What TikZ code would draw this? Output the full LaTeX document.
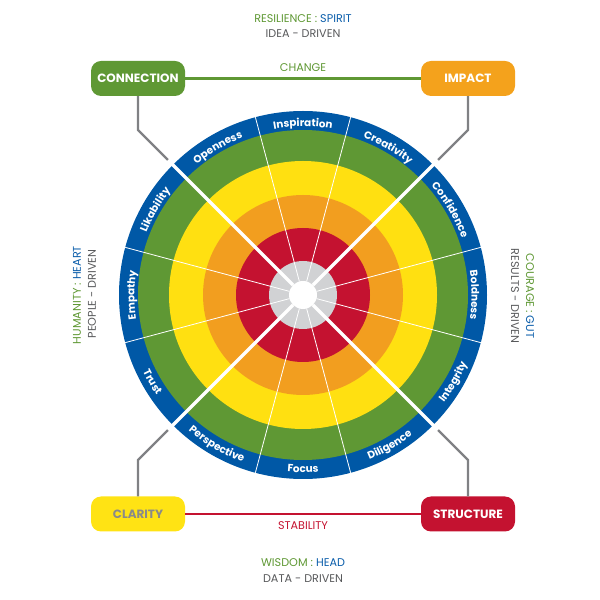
\documentclass[tikz,border=0pt]{standalone}
\usepackage{fontspec}
\setmainfont{Poppins}
\usetikzlibrary{decorations.text}
\definecolor{blueC}{HTML}{0058A6}
\definecolor{greenC}{HTML}{5F9834}
\definecolor{yellowC}{HTML}{FFE011}
\definecolor{orangeC}{HTML}{F29E1F}
\definecolor{redC}{HTML}{C41230}
\definecolor{grayC}{HTML}{D1D2D4}
\definecolor{lineGray}{HTML}{808184}
\definecolor{textGray}{HTML}{58595B}
\definecolor{blueT}{HTML}{0A5DAA}
\definecolor{impactC}{HTML}{F4A21C}
\definecolor{clarityC}{HTML}{FFE314}
\definecolor{clarityT}{HTML}{8A8A8A}
\newcommand\ringfont{\fontsize{10.4}{12}\selectfont\bfseries}
\newcommand\ttlfont{\fontsize{11.2}{13}\selectfont}
\begin{document}
\begin{tikzpicture}[x=1pt,y=1pt,
  box/.style={rounded corners=10, minimum width=94, minimum height=35, inner sep=0,
    font=\fontsize{12}{14}\selectfont\bfseries, text=white},
  conn/.style={lineGray, line width=2.2},
  ttl/.style={font=\ttlfont, inner sep=0},
  thinline/.style={white, line width=0.8},
  thickline/.style={white, line width=3.5},
  cwlabel/.style={decorate, decoration={text along path, text align=center, text color=white, text={|\ringfont|#1}}},
]
\useasboundingbox (0,0) rectangle (600,600);
\begin{scope}[shift={(303,305)}]
  \coordinate (c) at (0,0);
  \fill[blueC] (c) circle (184);
  \fill[greenC] (c) circle (165);
  \fill[yellowC] (c) circle (134);
  \fill[orangeC] (c) circle (100);
  \fill[redC] (c) circle (67);
  \fill[grayC] (c) circle (34);
  \foreach \a in {15,75,105,165,195,255,285,345}
    \draw[thinline] (\a:14) -- (\a:184);
  \foreach \a in {45,135,225,315}
    \draw[thickline] (\a:14) -- (\a:191);
  \fill[white] (c) circle (14);
  % clockwise labels (tops outward)
  \path[cwlabel=Boldness] (15:168.5) arc (15:-15:168.5);
  \path[cwlabel=Confidence] (45:168.5) arc (45:15:168.5);
  \path[cwlabel=Creativity] (75:168.5) arc (75:45:168.5);
  \path[cwlabel=Inspiration] (105:168.5) arc (105:75:168.5);
  \path[cwlabel=Openness] (135:168.5) arc (135:105:168.5);
  \path[cwlabel=Likability] (165:168.5) arc (165:135:168.5);
  \path[cwlabel=Empathy] (195:168.5) arc (195:165:168.5);
  % counterclockwise labels (tops inward)
  \path[cwlabel=Trust] (195:177.5) arc (195:225:177.5);
  \path[cwlabel=Perspective] (225:177.5) arc (225:255:177.5);
  \path[cwlabel=Focus] (255:177.5) arc (255:285:177.5);
  \path[cwlabel=Diligence] (285:177.5) arc (285:315:177.5);
  \path[cwlabel=Integrity] (315:177.5) arc (315:345:177.5);
  \coordinate (p1) at (135:191);
  \coordinate (p2) at (45:191);
  \coordinate (p3) at (225:191);
  \coordinate (p4) at (315:191);
\end{scope}
% boxes
\node[box, fill=greenC] (connection) at (138,521.5) {CONNECTION};
\node[box, fill=impactC] (impact) at (468,521.5) {IMPACT};
\node[box, fill=clarityC, text=clarityT] (clarity) at (138,86) {CLARITY};
\node[box, fill=redC] (structure) at (468,86) {STRUCTURE};
\draw[greenC, line width=2.5] (connection) -- (impact);
\draw[redC, line width=2.5] (clarity) -- (structure);
% connectors
\coordinate (k1) at (138,470);
\coordinate (k2) at (468,470);
\coordinate (k3) at (138,140);
\coordinate (k4) at (468,140);
\draw[conn] (p1) -- (k1) -- (connection.south);
\draw[conn] (p2) -- (k2) -- (impact.south);
\draw[conn] (p3) -- (k3) -- (clarity.north);
\draw[conn] (p4) -- (k4) -- (structure.north);
% texts
\node[ttl, text=greenC] (res) at (303,581) {RESILIENCE : \textcolor{blueT}{SPIRIT}};
\node[ttl, text=textGray] (idea) at (303,566) {IDEA - DRIVEN};
\node[ttl, text=greenC] (change) at (303,532) {CHANGE};
\node[ttl, text=redC] (stab) at (303,74) {STABILITY};
\node[ttl, text=greenC] (wis) at (303,37) {WISDOM : \textcolor{blueT}{HEAD}};
\node[ttl, text=textGray] (data) at (303,21) {DATA - DRIVEN};
\node[ttl, text=greenC, rotate=90] (hum) at (77,305) {HUMANITY : \textcolor{blueT}{HEART}};
\node[ttl, text=textGray, rotate=90] (people) at (92,306) {PEOPLE - DRIVEN};
\node[ttl, text=greenC, rotate=-90] (cour) at (530,304) {COURAGE : \textcolor{blueT}{GUT}};
\node[ttl, text=textGray, rotate=-90] (resu) at (515,304) {RESULTS - DRIVEN};
\end{tikzpicture}
\end{document}
